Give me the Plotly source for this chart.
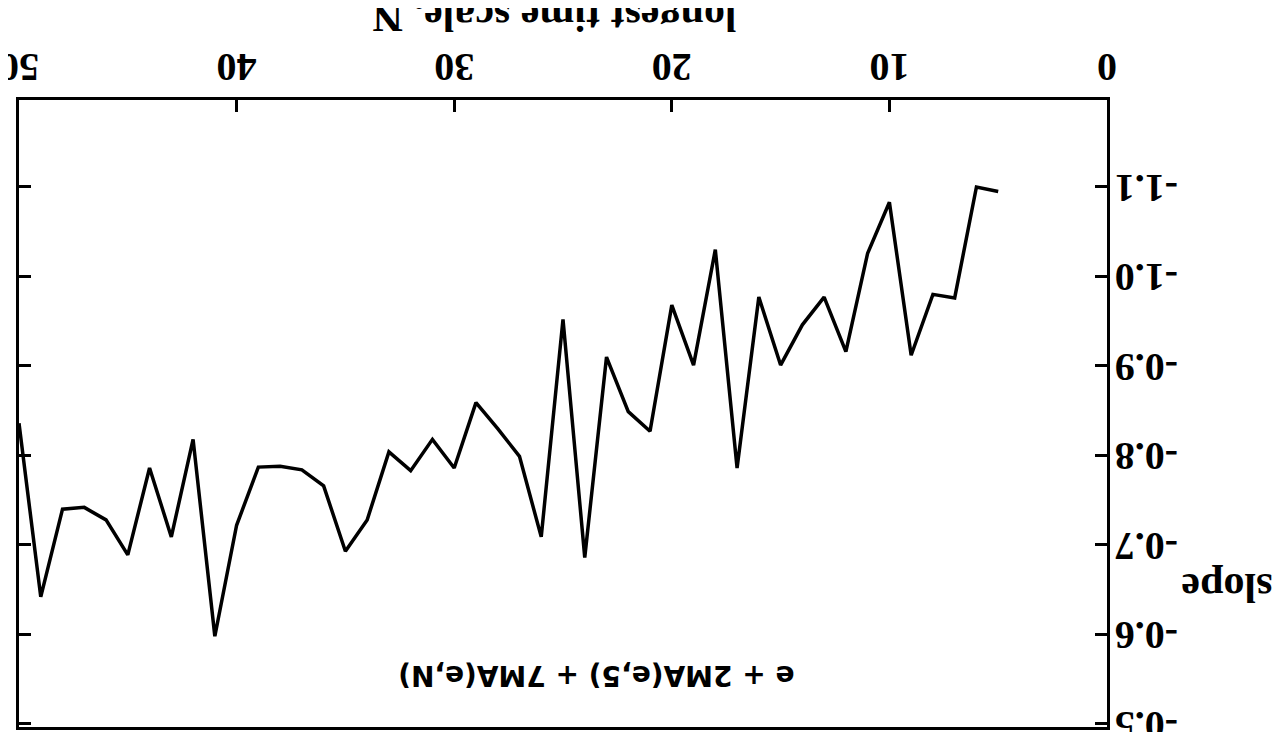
import plotly.graph_objects as go

# longest time scale N
N = list(range(5, 51))
# slope values
slope = [-1.095, -1.100, -0.976, -0.980, -0.912, -1.083, -1.026, -0.916, -0.977, -0.946,
         -0.901, -0.977, -0.786, -1.030, -0.901, -0.968, -0.827, -0.849, -0.910, -0.686,
         -0.952, -0.709, -0.799, -0.830, -0.859, -0.786, -0.818, -0.783, -0.804, -0.728,
         -0.693, -0.766, -0.784, -0.788, -0.787, -0.722, -0.598, -0.818, -0.709, -0.786,
         -0.689, -0.728, -0.742, -0.740, -0.642, -0.836]

x_tickvals = [0, 10, 20, 30, 40, 50]
x_ticktext = ["\u00a00", "10", "20", "30", "40", "50"]
y_tickvals = [-1.1, -1.0, -0.9, -0.8, -0.7, -0.6, -0.5]
y_ticktext = ["-1.1", "-1.0", "-0.9", "-0.8", "-0.7", "-0.6", "-0.5"]

x_title = "longest time scale, N"
y_title = "slope"
formula = "e + 2MA(e,5) + 7MA(e,N)"

serif = "Liberation Serif"
fig = go.Figure()
fig.add_trace(go.Scatter(x=N, y=slope, mode="lines",
                         line=dict(color="black", width=3.5), showlegend=False))

# the page body has an 8px margin; margins compensate so the plot box sits at 19..1107 x 100..727
fig.update_layout(
    width=1282, height=732,
    margin=dict(l=11, r=183, t=92, b=13),
    plot_bgcolor="white", paper_bgcolor="white",
    font=dict(family=serif, color="black"),
    xaxis=dict(range=[50, 0], side="top", tickvals=x_tickvals, ticktext=x_ticktext,
               tickangle=180, ticks="inside", ticklen=12, tickwidth=3, tickcolor="black",
               showline=True, linewidth=3, linecolor="black", mirror=True,
               showgrid=False, zeroline=False, automargin=False,
               ticklabelshift=-20, ticklabelstandoff=-13, ticklabeloverflow="allow",
               tickfont=dict(family=serif, size=40, color="black", weight="bold")),
    yaxis=dict(range=[-0.4966, -1.1972], side="right", tickvals=y_tickvals, ticktext=y_ticktext,
               tickangle=180, ticks="inside", ticklen=12, tickwidth=3, tickcolor="black",
               showline=True, linewidth=3, linecolor="black", mirror="ticks",
               showgrid=False, zeroline=False, automargin=False,
               ticklabelshift=-14, ticklabelstandoff=60, ticklabeloverflow="allow",
               tickfont=dict(family=serif, size=40, color="black", weight="bold")),
    annotations=[
        dict(text="<b>" + x_title + "</b>", xref="paper", yref="paper", x=0.492, y=1.132,
             showarrow=False, textangle=180, xanchor="center", yanchor="middle",
             font=dict(family=serif, size=42, color="black")),
        dict(text="<b>" + y_title + "</b>", xref="paper", yref="paper", x=1.1105, y=0.2215,
             showarrow=False, textangle=180, xanchor="center", yanchor="middle",
             font=dict(family=serif, size=42, color="black")),
        dict(text="<b>" + formula + "</b>", xref="paper", yref="paper", x=0.531, y=0.082,
             showarrow=False, textangle=180, xanchor="center", yanchor="middle",
             font=dict(family="DejaVu Sans", size=28, color="black")),
    ],
)

fig.write_html("out.html")
